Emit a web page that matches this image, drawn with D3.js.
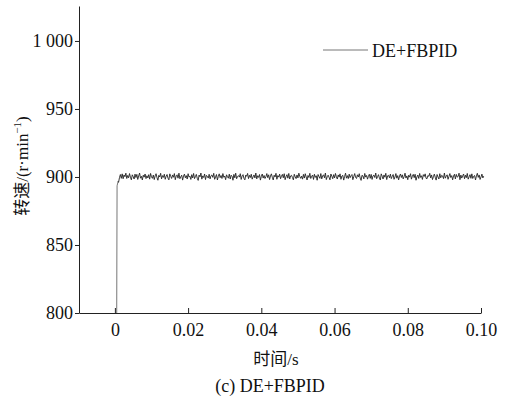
<!DOCTYPE html>
<html>
<head>
<meta charset="utf-8">
<script src="https://cdn.jsdelivr.net/npm/d3@7"></script>
<style>
  body { margin: 0; background: #fff; }
  svg text { font-family: 'Liberation Serif', serif; fill: #111; }
  svg text.cjk, svg tspan.cjk { font-family: 'Noto Sans CJK SC', sans-serif; }
</style>
</head>
<body>
<svg id="chart" width="506" height="398" font-family="Liberation Serif"></svg>
<script>
// step response
const riseTime = [0.0005, 0.0006, 0.0009];
const riseSpeed = [800, 893.5, 897.0];

// steady state samples, every 0.25 ms from 1 ms
const sampleStart = 0.001;
const sampleStep = 0.00025;
const speed = [
  896.0, 899.5, 901.8, 899.0, 902.3, 898.7, 901.5, 900.2, 902.8, 898.9, 901.1, 899.4, 902.5, 899.8, 897.9, 901.6, 900.3, 898.5, 902.1, 899.6,
  901.9, 898.2, 900.7, 902.9, 899.1, 900.5, 897.8, 901.3, 899.9, 902.2, 898.8, 900.9, 899.3, 901.7, 898.4, 902.6, 900.1, 899.0, 901.4, 898.1,
  900.8, 902.4, 899.5, 897.6, 901.2, 900.0, 902.7, 898.6, 901.0, 899.7, 902.0, 898.3, 900.6, 901.8, 899.2, 897.9, 902.3, 900.4, 898.9, 901.5,
  899.8, 902.5, 898.0, 900.9, 901.6, 899.1, 902.8, 898.7, 900.2, 901.3, 897.7, 900.7, 902.1, 899.4, 901.0, 898.5, 902.4, 899.9, 900.6, 898.2,
  901.7, 899.3, 902.6, 898.8, 900.3, 901.9, 899.0, 897.5, 901.4, 900.1, 902.9, 898.4, 900.8, 899.6, 902.2, 898.1, 901.2, 900.5, 899.2, 902.0,
  898.6, 900.9, 901.5, 899.7, 902.7, 898.3, 900.0, 901.8, 897.8, 900.4, 902.3, 899.5, 901.1, 898.9, 902.5, 899.8, 900.7, 898.0, 901.6, 900.2,
  899.1, 902.1, 898.5, 901.3, 900.6, 897.6, 901.9, 899.4, 902.8, 898.7, 900.3, 901.0, 899.9, 902.4, 898.2, 900.8, 901.7, 899.0, 897.9, 901.4,
  900.5, 902.6, 898.8, 901.2, 899.6, 902.0, 898.4, 900.1, 901.5, 899.3, 902.9, 898.6, 900.9, 899.7, 901.8, 897.7, 900.4, 902.2, 899.2, 901.1,
  898.9, 900.2, 902.5, 899.5, 901.6, 898.1, 900.7, 902.3, 899.8, 897.8, 901.3, 900.0, 902.7, 898.3, 901.0, 899.9, 902.1, 898.7, 900.6, 901.9,
  899.4, 902.4, 898.0, 900.3, 901.7, 899.1, 902.6, 898.5, 900.8, 901.2, 899.6, 897.9, 902.0, 900.1, 898.8, 901.5, 899.3, 902.8, 900.4, 899.0,
  900.6, 898.4, 901.9, 899.2, 902.4, 900.0, 897.8, 901.1, 899.6, 902.7, 898.9, 900.5, 901.4, 898.2, 902.0, 899.7, 900.9, 897.6, 901.8, 900.3,
  899.0, 902.5, 898.6, 900.8, 901.6, 899.4, 902.9, 898.1, 900.2, 901.3, 899.8, 897.9, 902.2, 900.6, 898.7, 901.7, 899.3, 902.6, 900.1, 898.5,
  901.5, 899.9, 902.3, 898.3, 900.7, 901.2, 897.7, 900.4, 902.8, 899.1, 901.0, 898.8, 902.1, 899.5, 900.9, 901.8, 898.0, 900.3, 902.5, 899.7,
  898.9, 901.6, 900.0, 902.4, 899.2, 897.5, 901.3, 900.7, 898.6, 902.6, 899.9, 901.1, 898.4, 900.5, 902.0, 899.0, 901.9, 898.2, 900.8, 901.4,
  899.6, 902.9, 898.7, 900.2, 901.7, 899.3, 897.8, 902.3, 900.6, 898.5, 901.5, 899.8, 902.7, 898.1, 900.9, 901.2, 899.4, 902.1, 898.8, 900.4,
  901.8, 898.3, 900.0, 902.5, 899.1, 901.0, 897.9, 900.7, 902.2, 899.6, 901.6, 898.6, 900.3, 902.8, 899.2, 900.8, 898.0, 901.3, 899.9, 902.4,
  898.4, 900.6, 901.9, 899.5, 902.0, 897.6, 900.1, 901.4, 898.9, 902.6, 899.7, 900.9, 898.2, 901.7, 900.4, 902.3, 899.0, 898.7, 901.1, 900.5,
  902.7, 899.3, 901.5, 898.1, 900.2, 902.1, 899.8, 897.7, 901.8, 900.0, 898.5, 902.4, 899.4, 901.2, 900.8, 898.8, 902.9, 899.1, 900.6, 901.6,
  898.3, 900.4, 902.5, 899.6, 901.0, 897.9, 900.7, 902.0, 898.6, 901.9, 899.9, 900.3, 902.8, 898.0, 901.4, 899.2, 900.9, 902.2, 898.7, 901.3,
  899.5, 902.6, 898.4, 900.1, 901.7, 899.0, 902.3, 898.9, 900.5, 901.1, 897.8, 900.8, 902.7, 899.7, 901.5, 898.2, 900.0, 902.1, 899.3, 900.6
];

const xTicks = [0, 0.02, 0.04, 0.06, 0.08, 0.10];
const xTickLabels = ['0', '0.02', '0.04', '0.06', '0.08', '0.10'];
const yTicks = [800, 850, 900, 950, 1000];
const yTickLabels = ['800', '850', '900', '950', '1 000'];

const svg = d3.select('#chart');
const plotLeft = 79, plotRight = 481, plotTop = 6, plotBottom = 313;
const serif = "'Liberation Serif', serif";

const x = d3.scaleLinear().domain([-0.0098, 0.10]).range([plotLeft, plotRight]);
const y = d3.scaleLinear().domain([800, 1025.7]).range([plotBottom, plotTop]);

// x axis, ticks pointing in
const xAxis = svg.append('g').attr('transform', `translate(0,${plotBottom})`)
  .call(d3.axisBottom(x).tickValues(xTicks).tickSizeInner(-5).tickSizeOuter(0)
    .tickFormat((d, i) => xTickLabels[i]));
xAxis.attr('font-family', serif);
xAxis.select('.domain').attr('stroke', '#222');
xAxis.selectAll('.tick line').attr('stroke', '#222');
xAxis.selectAll('.tick text').attr('y', 10).attr('font-size', 18)
  .style('font-family', serif).attr('fill', '#111');

// y axis, ticks pointing out
const yAxis = svg.append('g').attr('transform', `translate(${plotLeft},0)`)
  .call(d3.axisLeft(y).tickValues(yTicks).tickSizeInner(4).tickSizeOuter(0)
    .tickFormat((d, i) => yTickLabels[i]));
yAxis.attr('font-family', serif);
yAxis.select('.domain').attr('stroke', '#222');
yAxis.selectAll('.tick line').attr('stroke', '#222');
yAxis.selectAll('.tick text').attr('x', -6).attr('font-size', 18)
  .style('font-family', serif).attr('fill', '#111');

// rise
const rise = riseTime.map((t, i) => [t, riseSpeed[i]]);
rise.push([sampleStart, speed[0]]);
svg.append('path')
  .attr('d', d3.line().x(d => x(d[0])).y(d => y(d[1]))(rise))
  .attr('fill', 'none').attr('stroke', '#777').attr('stroke-width', 1);

// steady state
const steady = speed.map((v, i) => [sampleStart + i * sampleStep, v]);
svg.append('path')
  .attr('d', d3.line().x(d => x(d[0])).y(d => y(d[1]))(steady))
  .attr('fill', 'none').attr('stroke', '#222').attr('stroke-width', 0.9);

// legend
svg.append('line').attr('x1', 323).attr('x2', 368).attr('y1', 50).attr('y2', 50)
  .attr('stroke', '#777').attr('stroke-width', 1);
svg.append('text').attr('x', 372).attr('y', 56.5).attr('font-size', 18)
  .style('font-family', serif).text('DE+FBPID');

// labels
svg.append('text')
  .attr('transform', 'translate(28,166) rotate(-90)')
  .attr('text-anchor', 'middle').attr('font-size', 17)
  .html(`<tspan class="cjk">转速</tspan><tspan>/(r·min</tspan><tspan font-size="11" dy="-7">−1</tspan><tspan dy="7">)</tspan>`);

svg.append('text').attr('x', 276).attr('y', 365).attr('text-anchor', 'middle').attr('font-size', 17)
  .html('<tspan class="cjk">时间</tspan><tspan>/s</tspan>');

svg.append('text').attr('x', 270).attr('y', 392).attr('text-anchor', 'middle').attr('font-size', 18)
  .style('font-family', serif).text('(c) DE+FBPID');
</script>
</body>
</html>
